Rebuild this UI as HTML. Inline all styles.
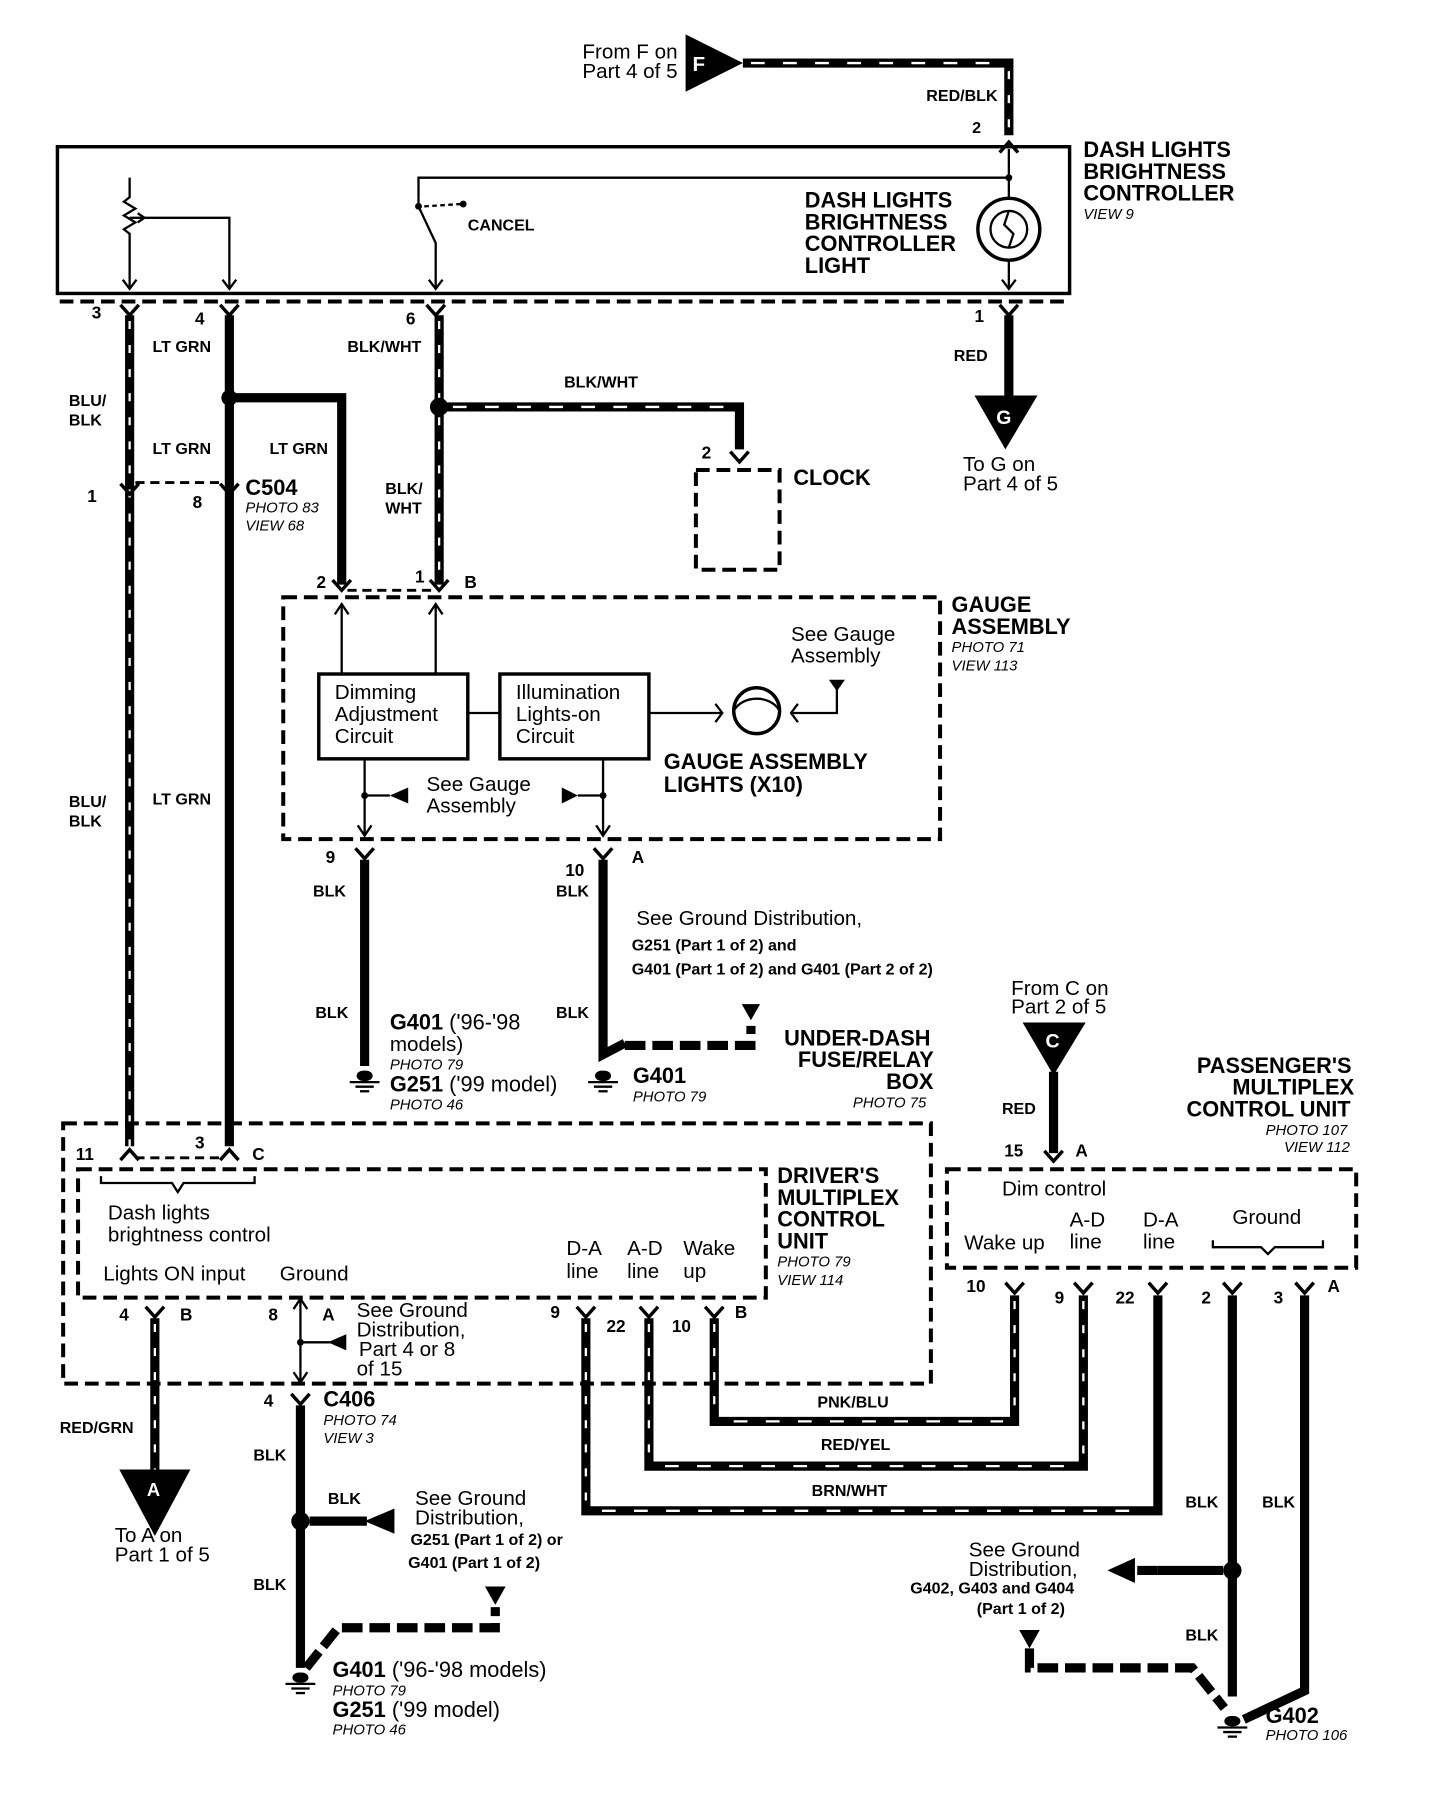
<!DOCTYPE html>
<html><head><meta charset="utf-8"><style>
html,body{margin:0;padding:0;background:#fff}
svg{display:block}
text{font-family:"Liberation Sans",Arial,sans-serif;fill:#000}
.b{font-weight:bold}
.s{font-size:14px;font-weight:bold}
.n{font-size:18px}
.h{font-size:19px;font-weight:bold}
.i{font-size:13px;font-style:italic}
.w{fill:none;stroke:#000;stroke-width:8;stroke-linejoin:miter}
.st{fill:none;stroke:#fff;stroke-width:2;stroke-dasharray:7 14}
.sh{fill:none;stroke:#fff;stroke-width:2;stroke-dasharray:12 16}
.d{fill:none;stroke:#000;stroke-width:3.5;stroke-dasharray:12 6}
.t{fill:none;stroke:#000;stroke-width:2}
.dn{fill:none;stroke:#000;stroke-width:6;stroke-dasharray:18 6}
</style></head><body>
<svg width="1456" height="1810" viewBox="0 0 1270 1579" xmlns="http://www.w3.org/2000/svg">
<defs>
<g id="gnd"><rect x="-7" y="-8" width="14" height="9" rx="6" fill="#000"/><line x1="-13" y1="2" x2="13" y2="2" stroke="#000" stroke-width="2"/><line x1="-8" y1="6" x2="8" y2="6" stroke="#000" stroke-width="2"/><line x1="-4" y1="10" x2="4" y2="10" stroke="#000" stroke-width="2"/></g>
<g id="pin"><path d="M-8,-6 L0,3 L8,-6" fill="none" stroke="#000" stroke-width="3"/></g>
<g id="pinu"><path d="M-8,6 L0,-3 L8,6" fill="none" stroke="#000" stroke-width="3"/></g>
</defs>

<!-- top F -->
<text class="n" x="508" y="51">From F  on</text>
<text class="n" x="508" y="68">Part 4 of 5</text>
<path d="M598,30 L598,80 L648,55 Z" fill="#000"/>
<text x="604" y="62" font-size="18" style="fill:#fff;font-weight:bold">F</text>
<path class="w" d="M648,55 L880,55 L880,118"/><path class="sh" d="M655,55 L876,55"/><path class="st" d="M880,62 L880,118"/>
<text class="s" x="808" y="88">RED/BLK</text>
<text class="s" x="848" y="116" font-size="15">2</text>
<use href="#pinu" x="880" y="127"/>

<!-- controller box -->
<rect x="50" y="128" width="883" height="128" fill="none" stroke="#000" stroke-width="3"/>
<text class="h" x="945" y="137">DASH LIGHTS</text>
<text class="h" x="945" y="156">BRIGHTNESS</text>
<text class="h" x="945" y="175">CONTROLLER</text>
<text class="i" x="945" y="191">VIEW 9</text>
<path class="t" d="M113,155 L113,172 L108,176 L118,182 L108,188 L118,194 L108,200 L113,204 L113,250"/>
<path class="t" d="M113,190 L200,190 L200,250"/>
<path d="M120,186 L126,190 L120,194" class="t"/>
<path d="M107,244 L113,252 L119,244 M194,244 L200,252 L206,244 M374,244 L380,252 L386,244" class="t"/>
<path class="t" d="M365,172 L365,155 L880,155"/>
<path d="M365,172 L365,180 L380,212 L380,250" class="t"/>
<path d="M370,180 L402,178" stroke="#000" stroke-width="2" stroke-dasharray="4 3"/>
<circle cx="404" cy="178" r="3" fill="#000"/>
<circle cx="365" cy="180" r="3" fill="#000"/>
<text class="s" x="408" y="201">CANCEL</text>
<text class="h" x="702" y="181">DASH LIGHTS</text>
<text class="h" x="702" y="200">BRIGHTNESS</text>
<text class="h" x="702" y="219">CONTROLLER</text>
<text class="h" x="702" y="238">LIGHT</text>
<circle cx="880" cy="155" r="3" fill="#000"/>
<path class="t" d="M880,130 L880,172 M880,228 L880,250"/>
<circle cx="880" cy="200" r="27" fill="none" stroke="#000" stroke-width="3"/>
<circle cx="880" cy="200" r="16" fill="none" stroke="#000" stroke-width="2"/>
<path class="t" d="M880,184 L876,196 L884,204 L880,216"/>
<path d="M874,244 L880,252 L886,244" class="t"/>

<path d="M52,263 L930,263" class="d"/>
<text class="b" x="80" y="278" font-size="15">3</text>
<text class="b" x="170" y="283" font-size="15">4</text>
<text class="b" x="354" y="283" font-size="15">6</text>
<text class="b" x="850" y="281" font-size="15">1</text>
<use href="#pin" x="113" y="272"/><use href="#pin" x="200" y="272"/><use href="#pin" x="380" y="272"/><use href="#pin" x="880" y="272"/>

<path class="w" d="M113,275 L113,1000"/><path class="st" d="M113,280 L113,1000"/>
<path class="w" d="M200,275 L200,1000"/>
<circle cx="200" cy="347" r="7" fill="#000"/>
<path class="w" d="M200,347 L298,347 L298,510"/>
<path class="w" d="M383,275 L383,510"/><path class="st" d="M383,280 L383,510"/>
<circle cx="383" cy="355" r="8" fill="#000"/>
<path class="w" d="M383,355 L645,355 L645,392"/><path class="sh" d="M395,355 L640,355"/>
<use href="#pin" x="645" y="400"/>
<text class="b" x="612" y="400" font-size="15">2</text>
<rect x="607" y="410" width="73" height="87" class="d"/>
<text class="h" x="692" y="423">CLOCK</text>

<path class="w" d="M880,275 L880,348"/>
<path d="M850,345 L905,345 L877,392 Z" fill="#000"/>
<text x="869" y="370" font-size="17" style="fill:#fff;font-weight:bold">G</text>
<text class="s" x="832" y="315">RED</text>
<text class="n" x="840" y="411">To G on</text>
<text class="n" x="840" y="428">Part 4 of 5</text>

<text class="s" x="60" y="354">BLU/</text><text class="s" x="60" y="371">BLK</text>
<text class="s" x="133" y="307">LT GRN</text>
<text class="s" x="133" y="396">LT GRN</text>
<text class="s" x="235" y="396">LT GRN</text>
<text class="s" x="303" y="307">BLK/WHT</text>
<text class="s" x="336" y="431">BLK/</text><text class="s" x="336" y="448">WHT</text>
<text class="s" x="492" y="338">BLK/WHT</text>

<path d="M118,421 L195,421" stroke="#000" stroke-width="2.5" stroke-dasharray="8 5"/>
<use href="#pin" x="113" y="428"/><use href="#pin" x="200" y="428"/>
<text class="b" x="76" y="438" font-size="15">1</text>
<text class="b" x="168" y="443" font-size="15">8</text>
<text class="h" x="214" y="432">C504</text>
<text class="i" x="214" y="447">PHOTO 83</text>
<text class="i" x="214" y="463">VIEW 68</text>
<text class="s" x="60" y="704">BLU/</text><text class="s" x="60" y="721">BLK</text>
<text class="s" x="133" y="702">LT GRN</text>

<path d="M303,515 L378,515" stroke="#000" stroke-width="2.5" stroke-dasharray="8 5"/>
<use href="#pin" x="298" y="512"/><use href="#pin" x="383" y="512"/>
<text class="b" x="276" y="513" font-size="15">2</text>
<text class="b" x="362" y="508" font-size="15">1</text>
<text class="b" x="405" y="513" font-size="15">B</text>
<rect x="247" y="521" width="573" height="211" class="d"/>
<text class="h" x="830" y="534">GAUGE</text>
<text class="h" x="830" y="553">ASSEMBLY</text>
<text class="i" x="830" y="569">PHOTO 71</text>
<text class="i" x="830" y="585">VIEW 113</text>
<rect x="278" y="588" width="130" height="74" fill="none" stroke="#000" stroke-width="3"/>
<rect x="436" y="588" width="130" height="74" fill="none" stroke="#000" stroke-width="3"/>
<text class="n" x="292" y="610">Dimming</text><text class="n" x="292" y="629">Adjustment</text><text class="n" x="292" y="648">Circuit</text>
<text class="n" x="450" y="610">Illumination</text><text class="n" x="450" y="629">Lights-on</text><text class="n" x="450" y="648">Circuit</text>
<path class="t" d="M298,588 L298,528 M380,588 L380,528 M292,536 L298,527 L304,536 M374,536 L380,527 L386,536"/>
<path class="t" d="M408,622 L436,622 M566,622 L630,622 M690,622 L730,622 L730,598"/>
<circle cx="660" cy="620" r="20" fill="none" stroke="#000" stroke-width="3"/>
<path class="t" d="M640,620 C648,606 672,606 680,620 M624,614 L630,622 L624,630 M696,614 L690,622 L696,630"/>
<path d="M723,593 L737,593 L730,603 Z" fill="#000"/>
<text class="n" x="690" y="559">See Gauge</text><text class="n" x="690" y="578">Assembly</text>
<text class="h" x="579" y="671">GAUGE ASSEMBLY</text>
<text class="h" x="579" y="691">LIGHTS (X10)</text>
<path class="t" d="M318,662 L318,728 M526,662 L526,728 M318,694 L340,694 M504,694 L526,694 M312,720 L318,729 L324,720 M520,720 L526,729 L532,720"/>
<circle cx="318" cy="694" r="3" fill="#000"/><circle cx="526" cy="694" r="3" fill="#000"/>
<path d="M340,694 L356,687 L356,701 Z" fill="#000"/>
<path d="M504,694 L490,687 L490,701 Z" fill="#000"/>
<text class="n" x="372" y="690">See Gauge</text><text class="n" x="372" y="709">Assembly</text>
<text class="b" x="284" y="753" font-size="15">9</text>
<text class="b" x="493" y="764" font-size="15">10</text>
<text class="b" x="551" y="753" font-size="15">A</text>
<use href="#pin" x="318" y="746"/><use href="#pin" x="526" y="746"/>
<path class="w" d="M318,750 L318,930"/>
<path class="w" d="M526,750 L526,920 L545,910"/>
<path class="dn" d="M545,912 L655,912 L655,895" style="stroke-width:8"/>
<path d="M647,876 L663,876 L655,890 Z" fill="#000"/>
<use href="#gnd" x="318" y="942"/><use href="#gnd" x="526" y="942"/>
<text class="s" x="273" y="782">BLK</text><text class="s" x="485" y="782">BLK</text>
<text class="s" x="275" y="888">BLK</text><text class="s" x="485" y="888">BLK</text>
<text class="n" x="555" y="807">See Ground Distribution,</text>
<text class="s" x="551" y="829" font-size="14">G251 (Part 1 of 2) and</text>
<text class="s" x="551" y="850" font-size="14">G401 (Part 1 of 2) and G401 (Part 2 of 2)</text>
<text class="h" x="340" y="898">G401 <tspan font-weight="normal">('96-'98</tspan></text>
<text class="n" x="340" y="917">models)</text>
<text class="i" x="340" y="933">PHOTO 79</text>
<text class="h" x="340" y="952">G251 <tspan font-weight="normal">('99 model)</tspan></text>
<text class="i" x="340" y="968">PHOTO 46</text>
<text class="h" x="552" y="945">G401</text>
<text class="i" x="552" y="961">PHOTO 79</text>
<text class="h" x="684" y="912">UNDER-DASH</text>
<text class="h" x="696" y="931">FUSE/RELAY</text>
<text class="h" x="773" y="950">BOX</text>
<text class="i" x="744" y="966">PHOTO 75</text>

<rect x="55" y="980" width="757" height="227" class="d"/>
<rect x="68" y="1020" width="600" height="112" class="d"/>
<path d="M118,1010 L195,1010" stroke="#000" stroke-width="2.5" stroke-dasharray="8 5"/>
<use href="#pinu" x="113" y="1006"/><use href="#pinu" x="200" y="1006"/>
<text class="b" x="66" y="1012" font-size="15">11</text>
<text class="b" x="170" y="1002" font-size="15">3</text>
<text class="b" x="220" y="1012" font-size="15">C</text>
<path class="t" d="M88,1026 L88,1032 L150,1032 L155,1040 L160,1032 L222,1032 L222,1026"/>
<text class="n" x="94" y="1064">Dash lights</text>
<text class="n" x="94" y="1083">brightness control</text>
<text class="n" x="90" y="1117">Lights ON input</text>
<text class="n" x="244" y="1117">Ground</text>
<text class="n" x="494" y="1095">D-A</text><text class="n" x="494" y="1115">line</text>
<text class="n" x="547" y="1095">A-D</text><text class="n" x="547" y="1115">line</text>
<text class="n" x="596" y="1095">Wake</text><text class="n" x="596" y="1115">up</text>
<text class="h" x="678" y="1032">DRIVER'S</text>
<text class="h" x="678" y="1051">MULTIPLEX</text>
<text class="h" x="678" y="1070">CONTROL</text>
<text class="h" x="678" y="1089">UNIT</text>
<text class="i" x="678" y="1105">PHOTO 79</text>
<text class="i" x="678" y="1121">VIEW 114</text>
<text class="b" x="104" y="1152" font-size="15">4</text>
<text class="b" x="157" y="1152" font-size="15">B</text>
<text class="b" x="234" y="1152" font-size="15">8</text>
<text class="b" x="281" y="1152" font-size="15">A</text>
<text class="b" x="480" y="1150" font-size="15">9</text>
<text class="b" x="529" y="1162" font-size="15">22</text>
<text class="b" x="586" y="1162" font-size="15">10</text>
<text class="b" x="641" y="1150" font-size="15">B</text>
<use href="#pin" x="135" y="1146"/>
<path class="w" d="M135,1150 L135,1290"/><path class="st" d="M135,1155 L135,1285"/>
<path d="M104,1282 L166,1282 L135,1340 Z" fill="#000"/>
<text x="128" y="1305" font-size="16" style="fill:#fff;font-weight:bold">A</text>
<text class="s" x="52" y="1250">RED/GRN</text>
<text class="n" x="100" y="1345">To A on</text><text class="n" x="100" y="1362">Part 1 of 5</text>
<path class="t" d="M262,1134 L262,1206 M256,1142 L262,1133 L268,1142 M256,1197 L262,1206 L268,1197 M262,1171 L288,1171"/>
<circle cx="262" cy="1171" r="3" fill="#000"/>
<path d="M286,1171 L302,1164 L302,1178 Z" fill="#000"/>
<text class="n" x="311" y="1149">See Ground</text>
<text class="n" x="311" y="1166">Distribution,</text>
<text class="n" x="313" y="1183">Part 4 or 8</text>
<text class="n" x="311" y="1200">of 15</text>
<use href="#pin" x="262" y="1222"/>
<text class="b" x="230" y="1227" font-size="15">4</text>
<text class="h" x="282" y="1227">C406</text>
<text class="i" x="282" y="1243">PHOTO 74</text>
<text class="i" x="282" y="1259">VIEW 3</text>
<path class="w" d="M262,1226 L262,1455"/>
<circle cx="262" cy="1327" r="8" fill="#000"/>
<path class="w" d="M270,1327 L320,1327"/>
<path d="M318,1327 L344,1316 L344,1338 Z" fill="#000"/>
<text class="s" x="286" y="1312">BLK</text>
<text class="s" x="221" y="1274">BLK</text><text class="s" x="221" y="1387">BLK</text>
<text class="n" x="362" y="1313">See Ground</text>
<text class="n" x="362" y="1330">Distribution,</text>
<text class="s" x="358" y="1348" font-size="14">G251 (Part 1 of 2) or</text>
<text class="s" x="356" y="1368" font-size="14">G401 (Part 1 of 2)</text>
<path class="dn" d="M267,1455 L295,1420 L432,1420 L432,1402" style="stroke-width:8"/>
<path d="M423,1384 L441,1384 L432,1400 Z" fill="#000"/>
<use href="#gnd" x="262" y="1467"/>
<text class="h" x="290" y="1463">G401 <tspan font-weight="normal">('96-'98 models)</tspan></text>
<text class="i" x="290" y="1479">PHOTO 79</text>
<text class="h" x="290" y="1498">G251 <tspan font-weight="normal">('99 model)</tspan></text>
<text class="i" x="290" y="1513">PHOTO 46</text>

<use href="#pin" x="511" y="1146"/><use href="#pin" x="566" y="1146"/><use href="#pin" x="623" y="1146"/>
<path class="w" d="M623,1150 L623,1240 L885,1240 L885,1130"/><path class="sh" d="M640,1240 L875,1240"/><path class="st" d="M623,1155 L623,1230"/><path class="st" d="M885,1135 L885,1230"/>
<path class="w" d="M566,1150 L566,1279 L945,1279 L945,1130"/><path class="sh" d="M580,1279 L935,1279"/><path class="st" d="M566,1155 L566,1270"/><path class="st" d="M945,1135 L945,1270"/>
<path class="w" d="M511,1150 L511,1318 L1010,1318 L1010,1130"/><path class="sh" d="M525,1318 L1000,1318"/><path class="st" d="M511,1155 L511,1310"/>
<text class="s" x="713" y="1228">PNK/BLU</text>
<text class="s" x="716" y="1265">RED/YEL</text>
<text class="s" x="708" y="1305">BRN/WHT</text>

<text class="n" x="882" y="868">From C on</text><text class="n" x="882" y="884">Part 2 of 5</text>
<path d="M892,892 L947,892 L919,938 Z" fill="#000"/>
<text x="912" y="914" font-size="17" style="fill:#fff;font-weight:bold">C</text>
<path class="w" d="M919,935 L919,1006"/>
<use href="#pin" x="919" y="1010"/>
<text class="s" x="874" y="972">RED</text>
<text class="b" x="876" y="1009" font-size="15">15</text>
<text class="b" x="938" y="1009" font-size="15">A</text>
<text class="h" x="1044" y="936">PASSENGER'S</text>
<text class="h" x="1075" y="955">MULTIPLEX</text>
<text class="h" x="1035" y="974">CONTROL UNIT</text>
<text class="i" x="1104" y="990">PHOTO 107</text>
<text class="i" x="1120" y="1005">VIEW 112</text>
<rect x="826" y="1020" width="357" height="86" class="d"/>
<text class="n" x="874" y="1043">Dim control</text>
<text class="n" x="841" y="1090">Wake up</text>
<text class="n" x="933" y="1070">A-D</text><text class="n" x="933" y="1089">line</text>
<text class="n" x="997" y="1070">D-A</text><text class="n" x="997" y="1089">line</text>
<text class="n" x="1075" y="1068">Ground</text>
<path class="t" d="M1058,1082 L1058,1088 L1100,1088 L1106,1094 L1112,1088 L1154,1088 L1154,1082"/>
<use href="#pin" x="885" y="1125"/><use href="#pin" x="945" y="1125"/><use href="#pin" x="1010" y="1125"/><use href="#pin" x="1075" y="1125"/><use href="#pin" x="1138" y="1125"/>
<text class="b" x="843" y="1127" font-size="15">10</text>
<text class="b" x="920" y="1137" font-size="15">9</text>
<text class="b" x="973" y="1137" font-size="15">22</text>
<text class="b" x="1048" y="1137" font-size="15">2</text>
<text class="b" x="1111" y="1137" font-size="15">3</text>
<text class="b" x="1158" y="1127" font-size="15">A</text>
<path class="w" d="M1075,1130 L1075,1480 M1138,1130 L1138,1475 L1085,1500"/>
<circle cx="1075" cy="1370" r="8" fill="#000"/>
<path class="w" d="M1067,1370 L1010,1370"/>
<path d="M966,1370 L990,1359 L990,1381 Z" fill="#000"/>
<path class="dn" d="M1010,1370 L990,1370" style="stroke-width:8"/>
<text class="s" x="1034" y="1315">BLK</text><text class="s" x="1101" y="1315">BLK</text>
<text class="s" x="1034" y="1431">BLK</text>
<text class="n" x="845" y="1358">See Ground</text>
<text class="n" x="845" y="1375">Distribution,</text>
<text class="s" x="794" y="1390" font-size="14">G402, G403 and G404</text>
<text class="s" x="852" y="1408" font-size="14">(Part 1 of 2)</text>
<path d="M889,1422 L907,1422 L898,1438 Z" fill="#000"/>
<path class="dn" d="M898,1438 L898,1455 L1040,1455 L1068,1490" style="stroke-width:8"/>
<use href="#gnd" x="1075" y="1505"/>
<text class="h" x="1104" y="1503">G402</text>
<text class="i" x="1104" y="1518">PHOTO 106</text>
</svg>
</body></html>
